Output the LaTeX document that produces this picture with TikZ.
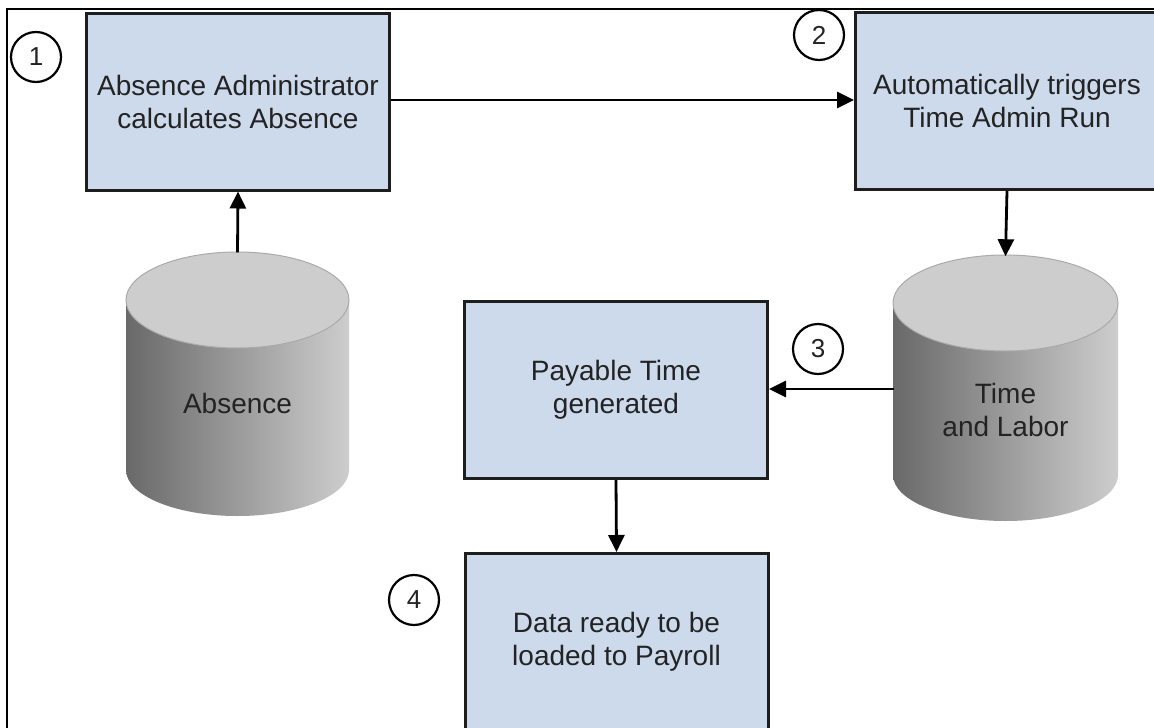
\documentclass[tikz,border=0pt]{standalone}
\usepackage{fontspec}
\setmainfont{Liberation Sans}
\usetikzlibrary{arrows.meta}
\definecolor{boxfill}{RGB}{204,218,236}
\definecolor{boxline}{RGB}{30,30,30}
\definecolor{dbtop}{RGB}{205,205,205}
\definecolor{dbedge}{RGB}{170,170,170}
\definecolor{dbdark}{RGB}{105,105,105}
\definecolor{dblight}{RGB}{205,205,205}
\definecolor{txt}{RGB}{35,35,35}
\tikzset{
  stepbox/.style={draw=boxline, line width=3pt, fill=boxfill, minimum width=303pt, minimum height=177pt, inner sep=0pt, align=center, text=txt, font=\fontsize{28}{33}\selectfont},
  numcirc/.style={draw=black, line width=2.2pt, circle, minimum size=50pt, inner sep=0pt, font=\fontsize{26}{26}\selectfont, text=txt},
  dbtext/.style={align=center, text=txt, font=\fontsize{28}{33}\selectfont, inner sep=0pt},
  dbanchor/.style={minimum width=223pt, minimum height=265pt, inner sep=0pt},
  flow/.style={line width=2.8pt, -{Triangle[length=17pt,width=16pt]}},
}
\begin{document}
\begin{tikzpicture}[x=1pt,y=-1pt]
\useasboundingbox (0,0) rectangle (1154,728);
\clip (0,0) rectangle (1154,728);
\fill[white] (0,0) rectangle (1154,728);
% frame
\draw[line width=1.5pt] (7,740) -- (7,9) -- (1170,9);
% cylinders
\shade[left color=dbdark, right color=dblight] (126,300) -- (126,470) arc[start angle=180, end angle=360, x radius=111.5pt, y radius=46pt] -- (349,300) -- cycle;
\draw[draw=dbedge, fill=dbtop, line width=1pt] (237.5,300) ellipse [x radius=111.5pt, y radius=48pt];
\shade[left color=dbdark, right color=dblight] (893,303) -- (893,475) arc[start angle=180, end angle=360, x radius=112.5pt, y radius=46pt] -- (1118,303) -- cycle;
\draw[draw=dbedge, fill=dbtop, line width=1pt] (1005.5,303) ellipse [x radius=112.5pt, y radius=48pt];
\node[dbanchor] (absdb) at (237.5,385) {};
\node[dbanchor] (tldb) at (1005.5,389) {};
\node[dbtext] (abstext) at (237.5,403) {Absence};
\node[dbtext] (tltext) at (1005.5,410) {Time\\and Labor};
% boxes
\node[stepbox] (calc) at (238,101.5) {Absence Administrator\\calculates Absence};
\node[stepbox] (trig) at (1007,101) {Automatically triggers\\Time Admin Run};
\node[stepbox] (pay) at (616,390) {Payable Time\\generated};
\node[stepbox] (ready) at (616.5,642) {Data ready to be\\loaded to Payroll};
% numbers
\node[numcirc] (n1) at (36,57) {1};
\node[numcirc] (n2) at (819,35) {2};
\node[numcirc] (n3) at (818,349) {3};
\node[numcirc] (n4) at (414,600) {4};
% connectors
\draw[flow] (absdb.north) -- (calc.south);
\draw[flow] (calc.east |- 0,100) -- (trig.west |- 0,100);
\draw[flow] (trig.south) -- (tldb.north);
\draw[flow] (tldb.west) -- (pay.east |- tldb.west);
\draw[flow] (pay.south) -- (ready.north);
\end{tikzpicture}
\end{document}
